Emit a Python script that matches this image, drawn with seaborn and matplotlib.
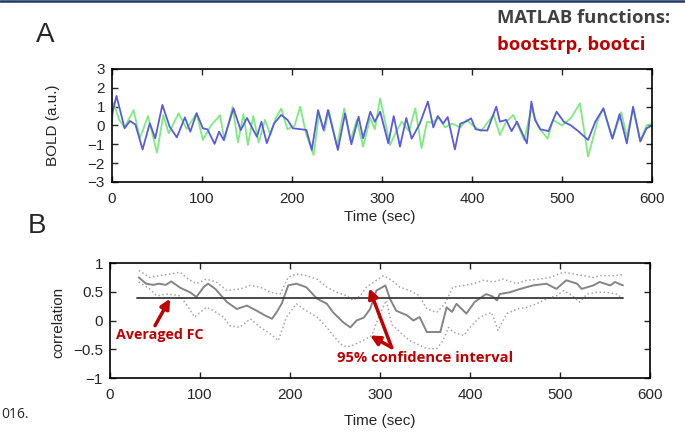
import matplotlib.pyplot as plt
import seaborn as sns
from matplotlib.lines import Line2D

# ---- panel A: BOLD signals ----
blue_t = [0, 5, 14, 20, 26, 34, 42, 48, 56, 64, 72, 81, 87, 94, 101, 106, 114, 119, 124, 135,
          143, 150, 161, 166, 172, 180, 188, 195, 201, 210, 216, 222, 229, 235, 240, 251, 259,
          266, 274, 279, 287, 292, 298, 307, 313, 320, 327, 333, 342, 351, 357, 362, 368, 373,
          381, 387, 393, 399, 404, 410, 417, 427, 431, 438, 444, 450, 461, 466, 470, 476, 485,
          494, 502, 510, 518, 529, 537, 546, 556, 564, 572, 579, 587, 594, 600]
blue_v = [0.6, 1.57, -0.15, 0.24, 0.05, -1.27, 0.12, -0.68, 1.09, -0.06, -0.63, 0.43, -0.33,
          0.65, -0.15, -0.2, -0.98, -0.33, -0.77, 0.91,
          -0.25, 0.4, -0.6, 0.2, -0.94, 0.1, 0.56, 0.3, -0.15, -0.2, -0.24, -1.3, 0.82, -0.24,
          0.82, -1.3, 0.64, -1.0, 0.47, -0.68, 0.73, 0.2, 0.73, -0.95, 0.5, -1.12, 0.4, -0.7,
          0.1, 1.27, -0.1, 0.5, 0.1, 0.45, -1.27, 0.1, 0.2, 0.38, -0.2, -0.25, -0.27, 1.0, 0.2,
          0.3, -0.3, 0.2, -0.95, 1.27, 0.3, -0.2, -0.3, 0.73, 0.2, 0.0, -0.3, -0.77, 0.2, 0.91,
          -0.7, 0.6, -0.95, 1.0, -0.85, -0.15, 0.0]

green_t = [0, 2, 8, 14, 24, 31, 40, 50, 57, 63, 74, 83, 94, 101, 110, 120, 125, 134, 140, 146,
           151, 157, 163, 170, 176, 182, 188, 195, 203, 209, 216, 224, 230, 236, 241, 250, 258,
           265, 272, 279, 287, 292, 298, 309, 316, 322, 330, 337, 344, 350, 356, 363, 370, 378,
           387, 394, 401, 410, 418, 424, 431, 438, 446, 458, 466, 474, 484, 490, 500, 510, 520,
           529, 540, 546, 556, 566, 572, 579, 587, 594, 600]
green_v = [0.2, 1.2, 0.3, -0.1, 0.82, -0.68, 0.5, -1.44, 0.55, -0.41, 0.65, -0.18, 0.65, -0.77,
           0.0, 0.55, -0.8, 1.0, -0.9, 0.6, -1.04, 0.5, -0.9, 0.3, -0.5, 0.4, 0.9, -0.2, 0.0,
           1.0, -0.5, -1.57, 0.6, -0.3, 0.8, -1.1, 0.9, -0.8, 0.3, -1.12, 0.4, -0.2, 1.44, -1.04,
           -0.3, 0.2, -0.3, 0.91, -1.21, 0.2, 0.15, 0.43, -0.1, 0.1, -0.1, 0.3, 0.0, -0.3, 0.2,
           0.56, -0.5, 0.2, 0.56, -0.77, 0.91, -0.1, -0.7, 0.3, 0.0, 0.4, 1.18, -1.65, 0.3, 0.9,
           -0.7, 0.7, -0.6, 0.9, -0.8, 0.0, 0.1]

# ---- panel B: sliding-window correlation + bootstrap CI ----
mean_t = [32, 40, 48, 54, 62, 68, 78, 89, 96, 104, 109, 117, 122, 130, 141, 152, 163, 172, 180,
          185, 191, 198, 207, 218, 230, 241, 248, 259, 267, 274, 282, 289, 296, 306, 311, 318,
          330, 337, 344, 352, 360, 367, 374, 380, 385, 396, 405, 418, 425, 430, 433, 444, 456,
          470, 485, 496, 507, 519, 524, 537, 544, 556, 561, 570]
mean_v = [0.75, 0.64, 0.62, 0.64, 0.62, 0.68, 0.57, 0.49, 0.41, 0.58, 0.64, 0.55, 0.46, 0.32,
          0.2, 0.26, 0.17, 0.09, 0.03, 0.14, 0.30, 0.61, 0.64, 0.58, 0.38, 0.29, 0.14, -0.03,
          -0.12, 0.0, 0.05, 0.2, 0.52, 0.61, 0.38, 0.17, 0.09, 0.0, 0.06, -0.2, -0.2, -0.2, 0.23,
          0.15, 0.29, 0.12, 0.32, 0.46, 0.42, 0.35, 0.46, 0.49, 0.55, 0.61, 0.64, 0.55, 0.7,
          0.64, 0.55, 0.61, 0.67, 0.61, 0.67, 0.61]

up_t = [32, 44, 55, 67, 78, 87, 96, 107, 118, 130, 145, 156, 167, 178, 189, 198, 207, 218, 230,
        241, 252, 263, 270, 278, 285, 296, 304, 313, 322, 333, 344, 352, 363, 372, 381, 393,
        404, 415, 426, 437, 452, 463, 478, 489, 504, 515, 526, 537, 544, 559, 570]
up_v = [0.87, 0.75, 0.78, 0.81, 0.84, 0.72, 0.64, 0.72, 0.67, 0.52, 0.55, 0.61, 0.58, 0.49,
        0.46, 0.75, 0.81, 0.78, 0.72, 0.58, 0.49, 0.43, 0.35, 0.43, 0.58, 0.70, 0.78, 0.70,
        0.58, 0.52, 0.43, 0.2, 0.14, 0.29, 0.58, 0.61, 0.64, 0.7, 0.67, 0.72, 0.64, 0.70, 0.72,
        0.75, 0.84, 0.81, 0.78, 0.75, 0.78, 0.78, 0.80]

lo_t = [32, 44, 52, 63, 78, 87, 94, 100, 107, 115, 126, 133, 144, 156, 167, 178, 187, 196, 207,
        218, 230, 241, 248, 256, 263, 270, 281, 291, 300, 307, 313, 322, 333, 344, 352, 363,
        370, 376, 381, 393, 400, 411, 424, 431, 441, 452, 463, 474, 485, 496, 504, 511, 522,
        530, 541, 552, 563, 570]
lo_v = [0.67, 0.55, 0.43, 0.46, 0.43, 0.23, 0.06, 0.14, 0.23, 0.17, 0.06, -0.09, -0.12, 0.03,
        -0.12, -0.23, -0.35, 0.06, 0.29, 0.17, 0.06, -0.12, -0.26, -0.41, -0.46, -0.43, -0.35,
        -0.26, 0.12, 0.35, -0.07, -0.2, -0.35, -0.43, -0.49, -0.49, -0.35, -0.12, -0.2, -0.26,
        -0.12, 0.06, 0.14, -0.17, 0.12, 0.2, 0.23, 0.29, 0.38, 0.43, 0.52, 0.46, 0.32, 0.46,
        0.49, 0.49, 0.46, 0.38]

fc_t = [30, 570]
fc_mean = 0.4

time_ticks = [0, 100, 200, 300, 400, 500, 600]
bold_ticks = [-3, -2, -1, 0, 1, 2, 3]
corr_ticks = [-1, -0.5, 0, 0.5, 1]
corr_labels = ["\u22121", "\u22120.5", "0", "0.5", "1"]

RED = "#C00000"
SLIDE_FONT = ["Open Sans", "DejaVu Sans"]

sns.set_style("ticks")
plt.rcParams["font.family"] = ["Liberation Sans", "DejaVu Sans"]

fig = plt.figure(figsize=(6.85, 4.33), dpi=100)
axA = fig.add_axes([0.1635, 0.5797, 0.7883, 0.2610])
axB = fig.add_axes([0.1606, 0.1270, 0.7883, 0.2656])

# panel A
sns.lineplot(x=green_t, y=green_v, ax=axA, color="#7DEB7D", lw=1.3, sort=False, estimator=None)
sns.lineplot(x=blue_t, y=blue_v, ax=axA, color="#5A5AE0", lw=1.3, sort=False, estimator=None)
axA.set_xlim(0, 600)
axA.set_ylim(-3, 3)
axA.set_xticks(time_ticks)
axA.set_yticks(bold_ticks)
axA.set_xlabel("Time (sec)", fontsize=11)
axA.set_ylabel("BOLD (a.u.)", fontsize=11)
axA.xaxis.set_label_coords(0.496, -0.25)
axA.yaxis.set_label_coords(-0.096, 0.5)

# panel B
sns.lineplot(x=up_t, y=up_v, ax=axB, color="#A6A6A6", lw=1.1, ls=":", sort=False, estimator=None)
sns.lineplot(x=lo_t, y=lo_v, ax=axB, color="#A6A6A6", lw=1.1, ls=":", sort=False, estimator=None)
sns.lineplot(x=mean_t, y=mean_v, ax=axB, color="#858585", lw=1.4, sort=False, estimator=None)
sns.lineplot(x=fc_t, y=[fc_mean] * len(fc_t), ax=axB, color="#3A3A3A", lw=1.3, estimator=None)
axB.set_xlim(0, 600)
axB.set_ylim(-1, 1)
axB.set_xticks(time_ticks)
axB.set_yticks(corr_ticks)
axB.set_yticklabels(corr_labels)
axB.set_xlabel("Time (sec)", fontsize=11)
axB.set_ylabel("correlation", fontsize=11)
axB.xaxis.set_label_coords(0.5, -0.31)
axB.yaxis.set_label_coords(-0.083, 0.487)

for ax in (axA, axB):
    ax.tick_params(direction="in", top=True, right=True, length=4, width=1,
                   labelsize=11, pad=5)
    ax.tick_params(axis="x", pad=7)
    for s in ax.spines.values():
        s.set_visible(True)
        s.set_linewidth(1.2)
        s.set_color("black")

# red annotations
arrow = dict(arrowstyle="-|>", color=RED, lw=2.5, mutation_scale=14, shrinkA=0, shrinkB=0)
axB.annotate("", xy=(66.7, 0.38), xytext=(50, -0.09), arrowprops=arrow)
axB.text(55.6, -0.26, "Averaged FC", color=RED, fontsize=10.3, fontweight="bold",
         family=SLIDE_FONT, ha="center", va="center")
axB.annotate("", xy=(288, 0.56), xytext=(313, -0.47), arrowprops=arrow)
axB.annotate("", xy=(289, -0.26), xytext=(313, -0.47), arrowprops=arrow)
axB.text(350, -0.66, "95% confidence interval", color=RED, fontsize=10.6, fontweight="bold",
         family=SLIDE_FONT, ha="center", va="center")

# slide decorations
fig.text(45 / 685, 1 - 35 / 433, "A", fontsize=20, ha="center", va="center")
fig.text(37 / 685, 1 - 226 / 433, "B", fontsize=20, ha="center", va="center")
fig.text(497 / 685, 1 - 18 / 433, "MATLAB functions:", fontsize=13.3, fontweight="bold",
         color="#404040", family=SLIDE_FONT, ha="left", va="center")
fig.text(497 / 685, 1 - 45 / 433, "bootstrp, bootci", fontsize=13.3, fontweight="bold",
         color=RED, family=SLIDE_FONT, ha="left", va="center")
fig.text(1 / 685, 1 - 415 / 433, "016.", fontsize=10, family=SLIDE_FONT,
         ha="left", va="center")
fig.add_artist(Line2D([0, 1], [1 - 1 / 433, 1 - 1 / 433], color="#1F3864", lw=1.8))

fig.savefig("out.png", dpi=100)
